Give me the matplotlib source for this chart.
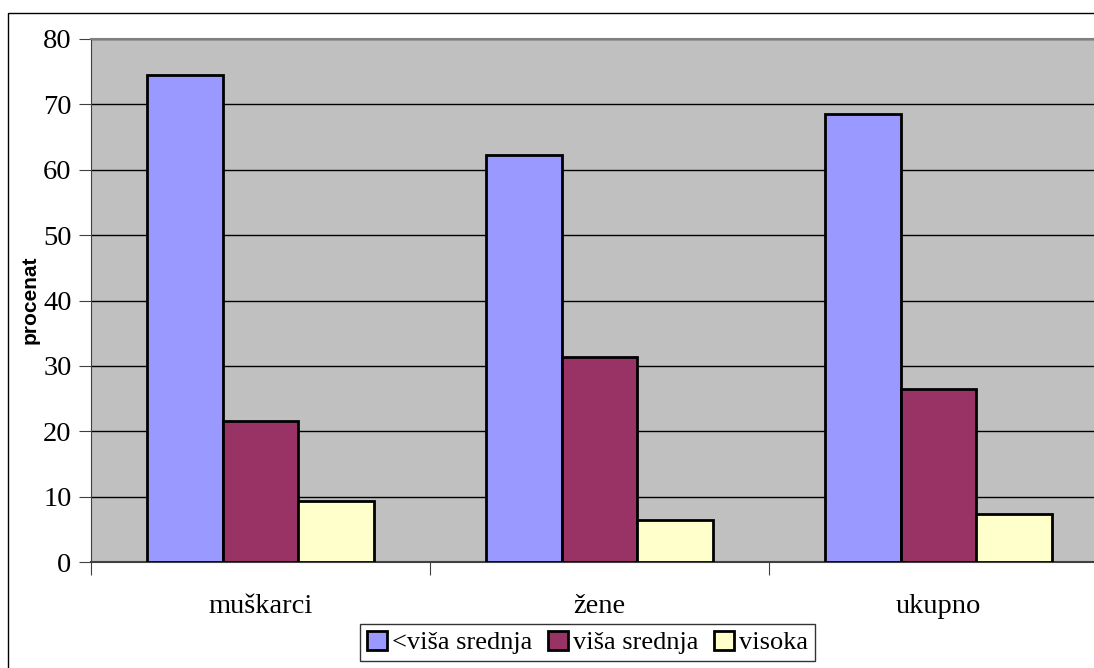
import matplotlib
matplotlib.use("Agg")
import matplotlib.pyplot as plt
import numpy as np
from matplotlib.patches import Rectangle, Patch

categories = ["muškarci", "žene", "ukupno"]
series_names = ["<viša srednja", "viša srednja", "visoka"]
vals_lower = [74.5, 62.3, 68.5]
vals_higher_sec = [21.6, 31.4, 26.4]
vals_high = [9.4, 6.4, 7.3]
colors = ["#9999FF", "#993366", "#FFFFCC"]
yticks = [0, 10, 20, 30, 40, 50, 60, 70, 80]

W, H = 1094, 668
fig = plt.figure(figsize=(W / 100, H / 100), dpi=100)

# outer chart frame
fig.patches.append(Rectangle((8 / W, -0.1), 1.2, 1 - 13 / H + 0.1, transform=fig.transFigure,
                             fill=False, edgecolor="black", linewidth=1.0))

left, right, top, bottom = 91, 1108, 39, 562
ax = fig.add_axes([left / W, 1 - bottom / H, (right - left) / W, (bottom - top) / H])
ax.set_facecolor("#C0C0C0")

x = np.arange(len(categories))
bw = 0.223
for i, (vals, name) in enumerate(zip([vals_lower, vals_higher_sec, vals_high], series_names)):
    ax.bar(x + (i - 1) * bw, vals, width=bw, color=colors[i], edgecolor="black",
           linewidth=2, label=name, zorder=3)

ax.set_xlim(-0.5, 2.5)
ax.set_ylim(0, 80)
ax.set_yticks(yticks)
ax.set_yticklabels([str(v) for v in yticks], fontfamily="Liberation Serif", fontsize=20.5)
ax.yaxis.grid(True, color="black", linewidth=1.0, zorder=1)
ax.set_axisbelow(True)

ax.set_xticks([-0.5, 0.5, 1.5, 2.5])
ax.set_xticklabels([])
ax.set_xticks(x, minor=True)
ax.set_xticklabels(categories, minor=True, fontfamily="Liberation Serif", fontsize=20.5)
ax.tick_params(axis="x", which="minor", length=0, pad=23)
ax.tick_params(axis="x", which="major", length=9, direction="out", color="#404040")
ax.tick_params(axis="y", length=9, direction="out", color="#404040", pad=5)

ax.spines["right"].set_visible(False)
ax.spines["top"].set_color("#808080")
ax.spines["top"].set_linewidth(1.5)
ax.spines["left"].set_color("#404040")
ax.spines["bottom"].set_color("#404040")
ax.spines["bottom"].set_linewidth(1.5)

fig.text(30 / W, 1 - 300 / H, "procenat", rotation=90, ha="center", va="center",
         fontfamily="Liberation Sans", fontweight="bold", fontsize=15)

handles = [Patch(facecolor=c, edgecolor="black", linewidth=2) for c in colors]
leg = fig.legend(handles, series_names, loc="center", bbox_to_anchor=(587.5 / W, 1 - 642.5 / H),
                 ncol=3, frameon=True, fancybox=False, edgecolor="black",
                 prop={"family": "Liberation Serif", "size": 19},
                 handlelength=0.75, handleheight=0.75, handletextpad=0.2, columnspacing=0.6,
                 borderpad=0.25, borderaxespad=0)
leg.get_frame().set_linewidth(1.0)

fig.savefig("out.png", dpi=100)
